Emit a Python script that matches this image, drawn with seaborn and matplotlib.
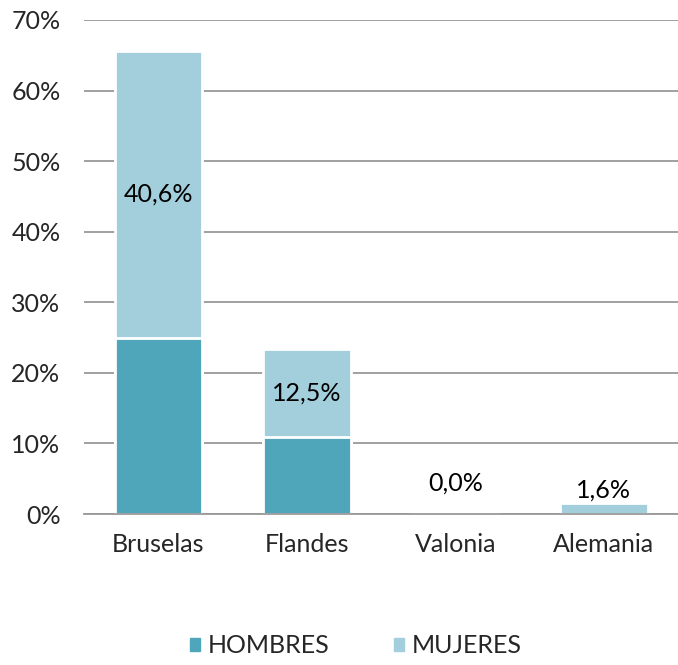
import pandas as pd
import numpy as np
import matplotlib.pyplot as plt
import seaborn as sns
from matplotlib.patches import Patch

regiones = ["Bruselas", "Flandes", "Valonia", "Alemania"]
hombres = [25.0, 10.9, 0.0, 0.0]
mujeres = [40.6, 12.5, 0.0, 1.6]

df = pd.DataFrame({"Region": regiones, "Hombres": hombres, "Mujeres": mujeres})
df["Total"] = df["Hombres"] + df["Mujeres"]

sns.set_style("white")
plt.rcParams['font.family'] = ['Lato', 'DejaVu Sans']

col_h = "#4fa6bb"
col_m = "#a3cedc"

fig = plt.figure(figsize=(6.78, 6.65), dpi=100)
ax = fig.add_axes([0.124, 0.227, 0.876, 0.743])

# barra total (mujeres arriba) y luego hombres encima
sns.barplot(data=df, x="Region", y="Total", color=col_m, width=0.59,
            edgecolor="white", linewidth=2, saturation=1, ax=ax)
sns.barplot(data=df, x="Region", y="Hombres", color=col_h, width=0.59,
            edgecolor="white", linewidth=2, saturation=1, ax=ax)

ax.set_ylim(0, 70)
ax.set_yticks(range(0, 71, 10))
ax.set_yticklabels([f"{v}%" for v in range(0, 71, 10)], fontsize=18)
ax.tick_params(axis="x", labelsize=18, pad=14, length=0)
ax.tick_params(axis="y", length=0, pad=17)
ax.yaxis.grid(True, color="#999999", linewidth=1.3)
ax.set_axisbelow(True)
for s in ["top", "right", "left"]:
    ax.spines[s].set_visible(False)
ax.spines["bottom"].set_color("#999999")
ax.spines["bottom"].set_linewidth(1.3)
ax.set_xlabel("")
ax.set_ylabel("")
ax.set_xlim(-0.5, 3.5)

# etiquetas con el valor de mujeres
for i, r in df.iterrows():
    txt = f"{r['Mujeres']:.1f}%".replace(".", ",")
    if r["Mujeres"] > 5:
        ypos = r["Hombres"] + r["Mujeres"] / 2
    elif r["Total"] == 0:
        ypos = 4.4
    else:
        ypos = r["Total"] + 1.8
    ax.text(i, ypos, txt, ha="center", va="center", fontsize=18, color="black")

handles = [Patch(color=col_h, label="HOMBRES"), Patch(color=col_m, label="MUJERES")]
fig.legend(handles=handles, loc="lower center", bbox_to_anchor=(0.525, -0.022), ncol=2,
           frameon=False, fontsize=18, handlelength=0.4, handleheight=0.4,
           handletextpad=0.3, columnspacing=2.6)

fig.savefig("out.png", dpi=100)
